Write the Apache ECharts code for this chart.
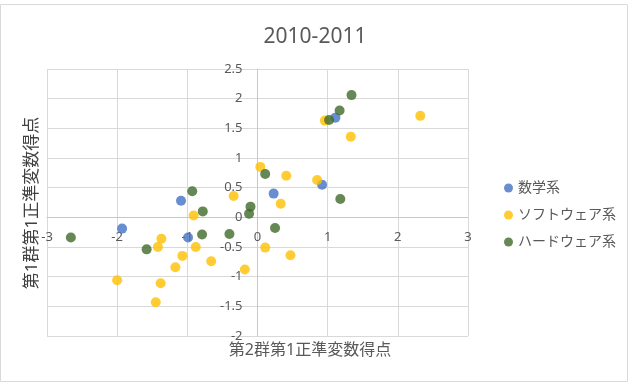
<!DOCTYPE html>
<html>
<head>
<meta charset="utf-8">
<script src="https://cdn.jsdelivr.net/npm/echarts@6/dist/echarts.min.js"></script>
<style>
  html, body { margin: 0; padding: 0; background: #fff; }
  #chart { width: 630px; height: 384px; }
</style>
</head>
<body>
<div id="chart"></div>
<script>
// 系列名
const seriesNames = ['数学系', 'ソフトウェア系', 'ハードウェア系'];
const seriesColors = ['#4472C4', '#FFC000', '#3F6A29'];

// 数学系
const mathX = [-1.09, 1.11, 0.92, 0.23, -1.93, -0.99];
const mathY = [0.28, 1.68, 0.55, 0.40, -0.19, -0.34];

// ソフトウェア系
const softX = [0.04, -0.34, 0.96, 2.32, 1.33, 0.41, 0.85, 0.33, -0.91, -1.37, -1.42,
  -0.88, -1.07, -0.66, -1.17, -0.18, -2.0, -1.38, -1.45, 0.11, 0.47];
const softY = [0.85, 0.36, 1.63, 1.71, 1.36, 0.70, 0.63, 0.23, 0.03, -0.36, -0.50,
  -0.50, -0.65, -0.74, -0.84, -0.88, -1.06, -1.11, -1.43, -0.51, -0.64];

// ハードウェア系
const hardX = [0.11, -0.93, -0.10, 1.34, 1.17, 1.02, 1.18, -0.78, -0.12, -2.66, -0.79, -0.40, -1.58, 0.25];
const hardY = [0.73, 0.44, 0.18, 2.06, 1.80, 1.64, 0.31, 0.10, 0.06, -0.34, -0.29, -0.28, -0.54, -0.18];

const zip = (xs, ys) => xs.map((x, i) => [x, ys[i]]);
const allData = [zip(mathX, mathY), zip(softX, softY), zip(hardX, hardY)];

const font = '"Noto Sans", "Noto Sans CJK JP", sans-serif';
const gray = '#595959';

// プロット領域
const gridW = 421, gridH = 267;
const xMin = -3, xMax = 3, yMin = -2, yMax = 2.5;

const chart = echarts.init(document.getElementById('chart'));
chart.setOption({
  animation: false,
  color: seriesColors,
  title: {
    text: '2010-2011',
    left: 'center',
    top: 22,
    textStyle: { fontFamily: font, fontSize: 21, fontWeight: 'normal', color: gray }
  },
  grid: { left: 47, top: 69, width: gridW, height: gridH },
  legend: {
    orient: 'vertical',
    left: 499,
    top: 175,
    icon: 'circle',
    itemWidth: 9,
    itemHeight: 9,
    itemGap: 11,
    data: seriesNames,
    textStyle: { fontFamily: font, fontSize: 14, color: gray, lineHeight: 16 }
  },
  xAxis: {
    type: 'value',
    min: xMin,
    max: xMax,
    interval: 1,
    position: 'bottom',
    // 軸をy=0の位置へ
    offset: -gridH * (0 - yMin) / (yMax - yMin),
    axisLine: { show: true, onZero: false, lineStyle: { color: '#c8c8c8' } },
    axisTick: { show: false },
    axisLabel: { margin: 13, fontFamily: font, fontSize: 13, color: gray },
    splitLine: { lineStyle: { color: '#d9d9d9' } }
  },
  yAxis: {
    type: 'value',
    min: yMin,
    max: yMax,
    interval: 0.5,
    position: 'left',
    // 軸をx=0の位置へ
    offset: -gridW * (0 - xMin) / (xMax - xMin),
    axisLine: { show: true, onZero: false, lineStyle: { color: '#c8c8c8' } },
    axisTick: { show: false },
    axisLabel: { margin: 15, fontFamily: font, fontSize: 13, color: gray },
    splitLine: { lineStyle: { color: '#d9d9d9' } }
  },
  graphic: [
    {
      type: 'rect',
      shape: { x: 0.5, y: 4.5, width: 627, height: 377 },
      style: { fill: 'none', stroke: '#d9d9d9', lineWidth: 1 },
      silent: true
    },
    {
      type: 'text',
      x: 310,
      y: 350,
      style: {
        text: '第2群第1正準変数得点',
        font: '16px ' + font,
        fill: gray,
        align: 'center',
        verticalAlign: 'middle'
      }
    },
    {
      type: 'text',
      x: 32,
      y: 203,
      rotation: Math.PI / 2,
      style: {
        text: '第1群第1正準変数得点',
        font: '17px ' + font,
        fill: '#404040',
        align: 'center',
        verticalAlign: 'middle'
      }
    }
  ],
  series: seriesNames.map((name, i) => ({
    name: name,
    type: 'scatter',
    symbol: 'circle',
    symbolSize: 10,
    data: allData[i]
  }))
});
</script>
</body>
</html>
